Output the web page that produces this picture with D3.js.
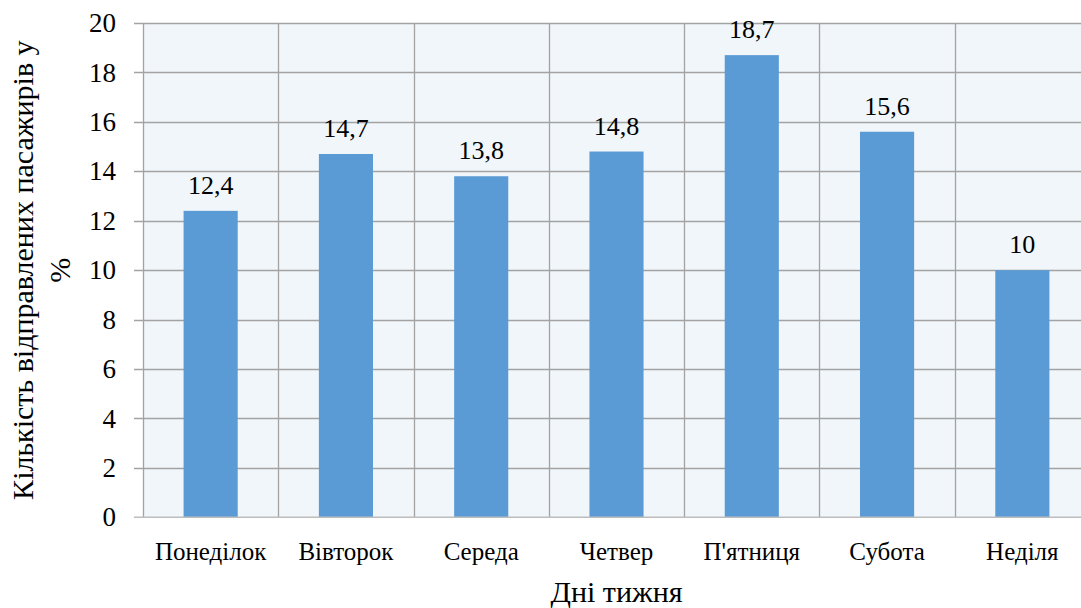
<!DOCTYPE html>
<html>
<head>
<meta charset="utf-8">
<script src="https://cdn.jsdelivr.net/npm/d3@7"></script>
<style>
  html, body { margin: 0; padding: 0; background: #fff; }
  svg { display: block; }
</style>
</head>
<body>
<svg id="chart" width="1081" height="608" font-family="Liberation Serif, DejaVu Serif, serif"></svg>
<script>
// Passenger share by day of week
const categories = ["Понеділок", "Вівторок", "Середа", "Четвер", "П'ятниця", "Субота", "Неділя"];
const values = [12.4, 14.7, 13.8, 14.8, 18.7, 15.6, 10];
const yTicks = [0, 2, 4, 6, 8, 10, 12, 14, 16, 18, 20];
const yTitleLines = ["Кількість відправлених пасажирів у", "%"];
const xTitle = "Дні тижня";

const FONT = "Liberation Serif";

const svg = d3.select("#chart");
const plot = { left: 143, right: 1090, top: 23, bottom: 517.3 };

const x = d3.scaleBand()
  .domain(categories)
  .range([plot.left, plot.right])
  .paddingInner(0.6)
  .paddingOuter(0.3);

const y = d3.scaleLinear()
  .domain([0, 20])
  .range([plot.bottom, plot.top]);

const step = x.step();
const edge = i => plot.left + i * step;

// plot background
svg.append("rect")
  .attr("x", plot.left).attr("y", plot.top)
  .attr("width", plot.right - plot.left)
  .attr("height", plot.bottom - plot.top)
  .attr("fill", "#f1f6fa");

// horizontal gridlines with short ticks on the left
svg.append("g")
  .selectAll("line")
  .data(yTicks.filter(t => t !== 0))
  .join("line")
  .attr("x1", plot.left - 9).attr("x2", plot.right)
  .attr("y1", d => Math.round(y(d)) + 0.5).attr("y2", d => Math.round(y(d)) + 0.5)
  .attr("stroke", "#a3a3a3").attr("stroke-width", 1.3);

// vertical gridlines at category boundaries
svg.append("g")
  .selectAll("line")
  .data(d3.range(categories.length + 1))
  .join("line")
  .attr("x1", d => Math.round(edge(d)) + 0.5).attr("x2", d => Math.round(edge(d)) + 0.5)
  .attr("y1", plot.top).attr("y2", plot.bottom)
  .attr("stroke", "#a3a3a3").attr("stroke-width", 1.3);

// bars
svg.append("g")
  .selectAll("rect")
  .data(values)
  .join("rect")
  .attr("x", (d, i) => x(categories[i]))
  .attr("width", x.bandwidth())
  .attr("y", d => y(d))
  .attr("height", d => y(0) - y(d))
  .attr("fill", "#5b9bd5");

// baseline
svg.append("line")
  .attr("x1", plot.left - 9).attr("x2", plot.right)
  .attr("y1", plot.bottom).attr("y2", plot.bottom)
  .attr("stroke", "#bdbdbd").attr("stroke-width", 1.5);

// value labels
svg.append("g")
  .selectAll("text")
  .data(values)
  .join("text")
  .attr("font-family", FONT)
  .attr("x", (d, i) => x(categories[i]) + x.bandwidth() / 2)
  .attr("y", d => y(d) - 17)
  .attr("text-anchor", "middle")
  .attr("font-size", 26)
  .attr("fill", "#000")
  .text(d => String(d).replace(".", ","));

// y tick labels
svg.append("g")
  .selectAll("text")
  .data(yTicks)
  .join("text")
  .attr("font-family", FONT)
  .attr("x", 116)
  .attr("y", d => y(d))
  .attr("dy", "0.34em")
  .attr("text-anchor", "end")
  .attr("font-size", 27)
  .attr("fill", "#000")
  .text(d => d);

// category labels
svg.append("g")
  .selectAll("text")
  .data(categories)
  .join("text")
  .attr("font-family", FONT)
  .attr("x", d => x(d) + x.bandwidth() / 2)
  .attr("y", 560)
  .attr("text-anchor", "middle")
  .attr("font-size", 25)
  .attr("fill", "#000")
  .text(d => d);

// x axis title
svg.append("text")
  .attr("font-family", FONT)
  .attr("x", (plot.left + plot.right) / 2)
  .attr("y", 601.5)
  .attr("text-anchor", "middle")
  .attr("font-size", 30)
  .attr("fill", "#000")
  .text(xTitle);

// y axis title (two lines, rotated)
const cy = (plot.top + plot.bottom) / 2;
svg.append("g")
  .selectAll("text")
  .data(yTitleLines)
  .join("text")
  .attr("font-family", FONT)
  .attr("transform", (d, i) => `translate(${33 + i * 37},${cy}) rotate(-90)`)
  .attr("text-anchor", "middle")
  .attr("font-size", 30)
  .attr("fill", "#000")
  .text(d => d);
</script>
</body>
</html>
